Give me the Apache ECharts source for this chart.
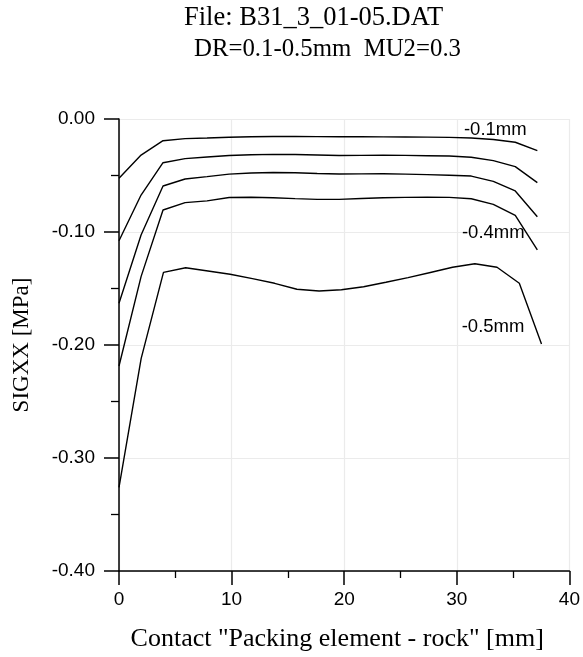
<!DOCTYPE html>
<html>
<head>
<meta charset="utf-8">
<script src="https://cdn.jsdelivr.net/npm/echarts@6/dist/echarts.min.js"></script>
<style>
html,body{margin:0;padding:0;background:#fff;}
#chart{width:583px;height:657px;}
</style>
</head>
<body>
<div id="chart"></div>
<script>
// x positions along the contact [mm]
const xPos = [0, 1.96, 3.91, 5.87, 7.82, 9.78, 11.73, 13.69, 15.64, 17.6, 19.55, 21.51, 23.46, 25.42, 27.37, 29.33, 31.28, 33.24, 35.19, 37.15];
const xPos05 = [0, 1.97, 3.95, 5.92, 7.9, 9.87, 11.85, 13.82, 15.8, 17.77, 19.75, 21.72, 23.7, 25.67, 27.65, 29.62, 31.6, 33.57, 35.55, 37.52];

// SIGXX [MPa] for each radial displacement DR
const dr01 = [-0.0525, -0.0319, -0.0192, -0.0174, -0.0168, -0.0161, -0.0157, -0.0155, -0.0155, -0.0156, -0.0157, -0.0157, -0.0158, -0.0159, -0.0160, -0.0163, -0.0168, -0.0181, -0.0206, -0.0280];
const dr02 = [-0.1077, -0.0673, -0.0387, -0.0351, -0.0336, -0.0323, -0.0317, -0.0313, -0.0314, -0.0318, -0.0323, -0.0322, -0.0321, -0.0322, -0.0325, -0.0328, -0.0338, -0.0368, -0.0422, -0.0563];
const dr03 = [-0.1630, -0.1027, -0.0593, -0.0531, -0.0510, -0.0488, -0.0478, -0.0474, -0.0476, -0.0482, -0.0487, -0.0486, -0.0485, -0.0488, -0.0492, -0.0498, -0.0505, -0.0552, -0.0637, -0.0865];
const dr04 = [-0.2186, -0.1395, -0.0805, -0.0740, -0.0725, -0.0695, -0.0692, -0.0697, -0.0705, -0.0711, -0.0711, -0.0703, -0.0697, -0.0694, -0.0692, -0.0694, -0.0706, -0.0755, -0.0852, -0.1159];
const dr05 = [-0.3260, -0.2118, -0.1357, -0.1316, -0.1345, -0.1374, -0.1413, -0.1454, -0.1507, -0.1522, -0.1511, -0.1484, -0.1445, -0.1404, -0.1358, -0.1312, -0.1281, -0.1312, -0.1454, -0.1991];

// curve labels: [series index, point index, text]
const curveLabels = [[0, 17, '-0.1mm'], [3, 17, '-0.4mm'], [4, 17, '-0.5mm']];

const titleText = 'File: B31_3_01-05.DAT';
const subtitleText = 'DR=0.1-0.5mm  MU2=0.3';
const xName = 'Contact "Packing element - rock" [mm]';
const yName = 'SIGXX [MPa]';

const labelStyles = [
  {position: 'top', distance: 0, offset: [2, 0]},
  {position: 'bottom', distance: 19, offset: [0, 0]},
  {position: 'bottom', distance: 50, offset: [-4, 0]}
];

const curves = [[xPos, dr01], [xPos, dr02], [xPos, dr03], [xPos, dr04], [xPos05, dr05]];

const series = curves.map(function (c, si) {
  const data = c[0].map(function (x, i) { return {value: [x, c[1][i]]}; });
  curveLabels.forEach(function (l, k) {
    if (l[0] === si) {
      const st = labelStyles[k];
      data[l[1]].label = {
        show: true, formatter: l[2], position: st.position, distance: st.distance, offset: st.offset,
        color: '#000', fontSize: 18.5, fontFamily: 'Liberation Sans, Arial, sans-serif'
      };
    }
  });
  return {
    type: 'line', data: data, symbol: 'circle', symbolSize: 0, showSymbol: true, showAllSymbol: true,
    lineStyle: {color: '#000', width: 1.4}, itemStyle: {color: '#000'},
    emphasis: {disabled: true}, animation: false, silent: true, z: 3
  };
});

const chart = echarts.init(document.getElementById('chart'), null, {renderer: 'canvas'});
chart.setOption({
  animation: false,
  backgroundColor: '#fff',
  title: [
    {text: titleText, left: 179, top: 0, textStyle: {fontFamily: 'Liberation Serif, Times New Roman, serif', fontSize: 26.5, fontWeight: 'normal', color: '#000'}},
    {text: subtitleText, left: 189, top: 32, textStyle: {fontFamily: 'Liberation Serif, Times New Roman, serif', fontSize: 24.8, fontWeight: 'normal', color: '#000'}}
  ],
  grid: {left: 119, right: 12, top: 119, bottom: 86, containLabel: false},
  xAxis: {
    type: 'value', min: 0, max: 40, interval: 10,
    name: xName, nameLocation: 'middle', nameGap: 55,
    nameTextStyle: {fontFamily: 'Liberation Serif, Times New Roman, serif', fontSize: 26, color: '#000', padding: [0, 14, 0, 0]},
    axisLine: {show: true, onZero: false, lineStyle: {color: '#000', width: 1.5}},
    axisTick: {show: true, length: 14, lineStyle: {color: '#000', width: 1.5}},
    minorTick: {show: true, splitNumber: 2, length: 7, lineStyle: {color: '#000', width: 1.3}},
    axisLabel: {margin: 19, color: '#000', fontSize: 19, fontFamily: 'Liberation Sans, Arial, sans-serif'},
    splitLine: {show: true, lineStyle: {color: '#ebebeb', width: 1.2}}
  },
  yAxis: {
    type: 'value', min: -0.4, max: 0, interval: 0.1,
    name: yName, nameLocation: 'middle', nameGap: 86,
    nameTextStyle: {fontFamily: 'Liberation Serif, Times New Roman, serif', fontSize: 23, color: '#000'},
    axisLine: {show: true, onZero: false, lineStyle: {color: '#000', width: 1.5}},
    axisTick: {show: true, length: 15, lineStyle: {color: '#000', width: 1.5}},
    minorTick: {show: true, splitNumber: 2, length: 8, lineStyle: {color: '#000', width: 1.3}},
    axisLabel: {margin: 24, color: '#000', fontSize: 19, fontFamily: 'Liberation Sans, Arial, sans-serif',
      formatter: function (v) { return v.toFixed(2); }},
    splitLine: {show: true, lineStyle: {color: '#ebebeb', width: 1.2}}
  },
  series: series
});
</script>
</body>
</html>
